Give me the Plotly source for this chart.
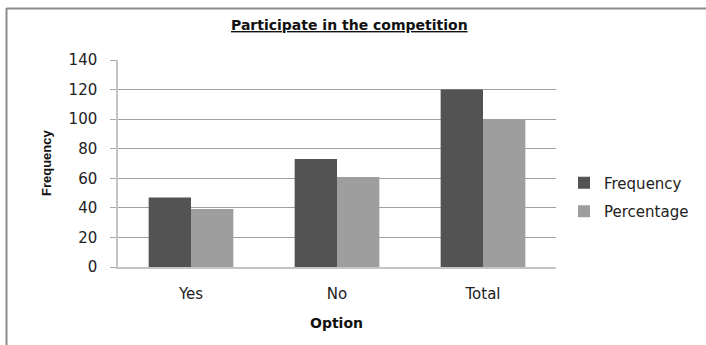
import plotly.graph_objects as go

# Survey results: participation in the competition
options = ["Yes", "No", "Total"]
frequency = [47, 73, 120]
percentage = [39.2, 60.8, 100]
y_ticks = [0, 20, 40, 60, 80, 100, 120, 140]

W, H = 706, 345
L, R, T, B = 118, 150, 60, 78
pw, ph = W - L - R, H - T - B

def px_x(px):
    return (px - L) / pw

def px_y(py):
    return (H - B - py) / ph

fig = go.Figure()
fig.add_trace(go.Bar(name="Frequency", x=options, y=frequency, legendgroup="freq",
                     marker=dict(color="#535353", line=dict(width=0))))
fig.add_trace(go.Bar(name="Percentage", x=options, y=percentage, legendgroup="pct",
                     marker=dict(color="#9e9e9e", line=dict(width=0))))

fig.update_layout(
    width=W, height=H,
    margin=dict(l=L, r=R, t=T, b=B, autoexpand=False),
    paper_bgcolor="white", plot_bgcolor="white",
    barmode="group", bargap=0.42, bargroupgap=0.0,
    font=dict(family="DejaVu Sans", size=13, color="#222"),
    showlegend=True,
    legend=dict(x=px_x(564), y=px_y(197), xanchor="left", yanchor="middle",
                font=dict(family="DejaVu Sans", size=15, color="#222"),
                traceorder="grouped", itemwidth=30, tracegroupgap=6,
                bgcolor="rgba(0,0,0,0)"),
    xaxis=dict(showline=True, linecolor="#c4c4c4", linewidth=1.5,
               showgrid=False, ticks="", tickfont=dict(size=15, color="#222"),
               ticklabelstandoff=12),
    yaxis=dict(range=[0, 140], tickvals=y_ticks, showgrid=True,
               gridcolor="#a0a0a0", gridwidth=1, showline=True,
               linecolor="#c4c4c4", linewidth=1.5, ticks="outside",
               ticklen=6, tickcolor="#a8a8a8", zeroline=False,
               tickfont=dict(size=15, color="#222"), ticklabelstandoff=10),
    annotations=[
        dict(text="<b><u>Participate in the competition</u></b>",
             xref="paper", yref="paper", x=px_x(349), y=px_y(25),
             xanchor="center", yanchor="middle", showarrow=False,
             font=dict(family="DejaVu Sans", size=14, color="#111")),
        dict(text="<b>Frequency</b>", textangle=-90,
             xref="paper", yref="paper", x=px_x(46), y=px_y(163),
             xanchor="center", yanchor="middle", showarrow=False,
             font=dict(family="Liberation Sans", size=13, color="#111")),
        dict(text="<b>Option</b>",
             xref="paper", yref="paper", x=px_x(336), y=px_y(323),
             xanchor="center", yanchor="middle", showarrow=False,
             font=dict(family="DejaVu Sans", size=14, color="#111")),
    ],
    shapes=[
        dict(type="line", xref="paper", yref="paper",
             x0=px_x(6.5), x1=px_x(6.5), y0=px_y(8), y1=px_y(H + 2),
             line=dict(color="#8c8c8c", width=2)),
        dict(type="line", xref="paper", yref="paper",
             x0=px_x(6.5), x1=px_x(W + 2), y0=px_y(8.5), y1=px_y(8.5),
             line=dict(color="#8c8c8c", width=2)),
    ],
)

fig.write_html("out.html")
